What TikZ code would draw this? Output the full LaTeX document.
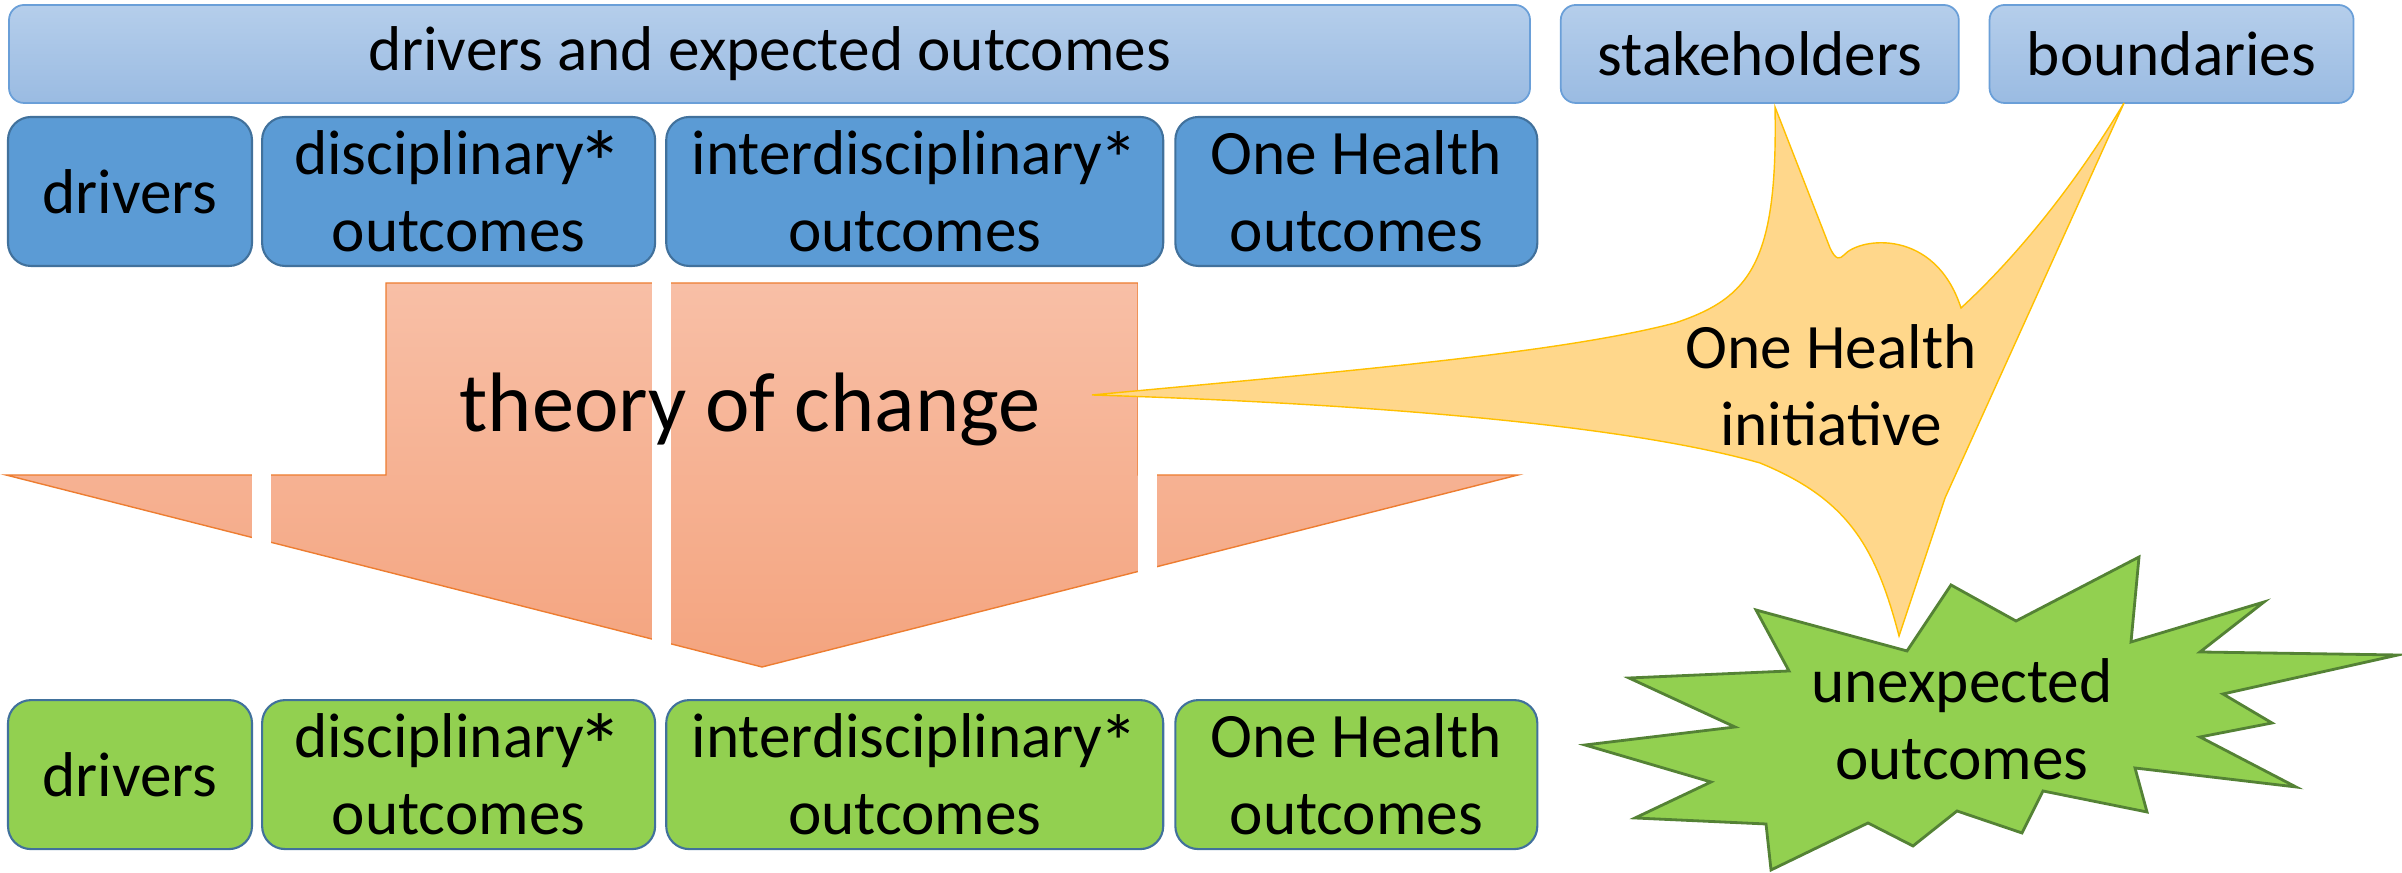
\documentclass[tikz,border=0pt]{standalone}
\usepackage{fontspec}
\setmainfont{Carlito}
\usetikzlibrary{positioning}

\definecolor{bartop}{HTML}{B5CEEB}
\definecolor{barbot}{HTML}{9ABBE2}
\definecolor{barline}{HTML}{6A9FD8}
\definecolor{rowblue}{HTML}{5B9BD5}
\definecolor{rowline}{HTML}{41719C}
\definecolor{rowgreen}{HTML}{92D050}
\definecolor{arrtop}{HTML}{F8BFA6}
\definecolor{arrbot}{HTML}{F4A47F}
\definecolor{arrline}{HTML}{ED7D31}
\definecolor{callfill}{HTML}{FFD78B}
\definecolor{callline}{HTML}{FFC000}
\definecolor{starline}{HTML}{548235}

% asterisk of the outcome boxes: size, lowering, kern
\newcommand{\boxstar}[3]{\kern-#3{\fontsize{#1}{22}\selectfont\smash{\raisebox{-#2}{*}}}}

\tikzset{
txt/.style={
  align=center,
  inner sep=0pt,
  font=\fontsize{18}{22}\selectfont
  },
bar/.style={
  txt,
  rectangle,rounded corners=1.5mm,
  minimum height=9.8mm,
  draw=barline,line width=0.5pt,
  top color=bartop,bottom color=barbot
  },
bluebox/.style={
  txt,
  rectangle,rounded corners=2.3mm,
  minimum height=14.9mm,
  draw=rowline,line width=0.6pt,
  fill=rowblue
  },
greenbox/.style={
  bluebox,
  fill=rowgreen
  }
}

\begin{document}
\begin{tikzpicture}
    \useasboundingbox (0,0) rectangle (24.02,8.73);
    % top rows
    \node[bar,minimum width=15.21cm] (exp) at (7.695,8.19) {drivers and expected outcomes};
    \node[bar,minimum width=3.98cm] (stk) [right = 0.29cm of exp] {stakeholders};
    \node[bar,minimum width=3.64cm] (bnd) [right = 0.29cm of stk] {boundaries};
    \node[bluebox,minimum width=2.44cm] (drv) at (1.30,6.815) {drivers};
    \node[bluebox,minimum width=3.93cm] (dsc) [right = 0.08cm of drv] {disciplinary\boxstar{26}{6pt}{2pt}\\outcomes};
    \node[bluebox,minimum width=4.97cm] (itd) [right = 0.09cm of dsc] {interdisciplinary\boxstar{22}{3.5pt}{1pt}\\outcomes};
    \node[bluebox,minimum width=3.62cm] (ohe) [right = 0.10cm of itd] {One Health\\outcomes};
    % the big arrow, cut in four
    \draw[arrline,line width=0.4pt,top color=arrtop,bottom color=arrbot]
      (3.86,5.90) -- (11.38,5.90) -- (11.38,3.98) -- (15.18,3.98)
      -- (7.62,2.06) -- (0.06,3.98) -- (3.86,3.98) -- cycle;
    \fill[white] (2.52,2.00) rectangle (2.71,5.95);
    \fill[white] (6.52,2.00) rectangle (6.71,5.95);
    \fill[white] (11.38,2.00) rectangle (11.57,5.95);
    % initiative
    \draw[callline,line width=0.4pt,fill=callfill] (10.92,4.78)
      .. controls (13.5,5.02) and (15.6,5.20) .. (16.75,5.50)
      .. controls (17.5,5.75) and (17.78,6.10) .. (17.75,7.66)
      -- (18.30,6.25)
      .. controls (18.36,6.12) and (18.40,6.14) .. (18.44,6.18)
      .. controls (18.6,6.36) and (19.35,6.45) .. (19.61,5.65)
      .. controls (20.1,6.1) and (20.7,6.8) .. (21.24,7.70)
      -- (19.45,3.75) -- (18.99,2.37)
      .. controls (18.75,3.30) and (18.45,3.75) .. (17.6,4.10)
      .. controls (16.2,4.50) and (13.5,4.70) .. (10.92,4.78) -- cycle;
    \node[txt,font=\fontsize{24}{29}\selectfont] (toc) [anchor=base] at (7.50,4.41) {theory of change};
    \node[txt] (ohi) at (18.31,4.88) {One Health\\initiative};
    % bottom row
    \node[greenbox,minimum width=2.44cm] (gdrv) [below = 4.32cm of drv] {drivers};
    \node[greenbox,minimum width=3.93cm] (gdsc) [right = 0.08cm of gdrv] {disciplinary\boxstar{26}{6pt}{2pt}\\outcomes};
    \node[greenbox,minimum width=4.97cm] (gitd) [right = 0.09cm of gdsc] {interdisciplinary\boxstar{22}{3.5pt}{1pt}\\outcomes};
    \node[greenbox,minimum width=3.62cm] (gohe) [right = 0.10cm of gitd] {One Health\\outcomes};
    % unexpected
    \draw[starline,line width=0.8pt,fill=rowgreen] (17.56,2.63) -- (19.07,2.22) -- (19.51,2.88)
      -- (20.16,2.52) -- (21.39,3.16) -- (21.31,2.31) -- (22.64,2.71) -- (22.00,2.21)
      -- (23.98,2.18) -- (22.23,1.79) -- (22.72,1.50) -- (22.00,1.36) -- (22.96,0.86)
      -- (21.35,1.05) -- (21.47,0.61) -- (20.43,0.82) -- (20.22,0.40) -- (19.57,0.62)
      -- (19.13,0.27) -- (18.68,0.50) -- (17.71,0.03) -- (17.66,0.49) -- (16.35,0.55)
      -- (17.11,0.91) -- (15.85,1.28) -- (17.35,1.46) -- (16.29,1.95) -- (17.89,2.02) -- cycle;
    \node[txt] (une) at (19.62,1.54) {unexpected\\outcomes};
\end{tikzpicture}
\end{document}
